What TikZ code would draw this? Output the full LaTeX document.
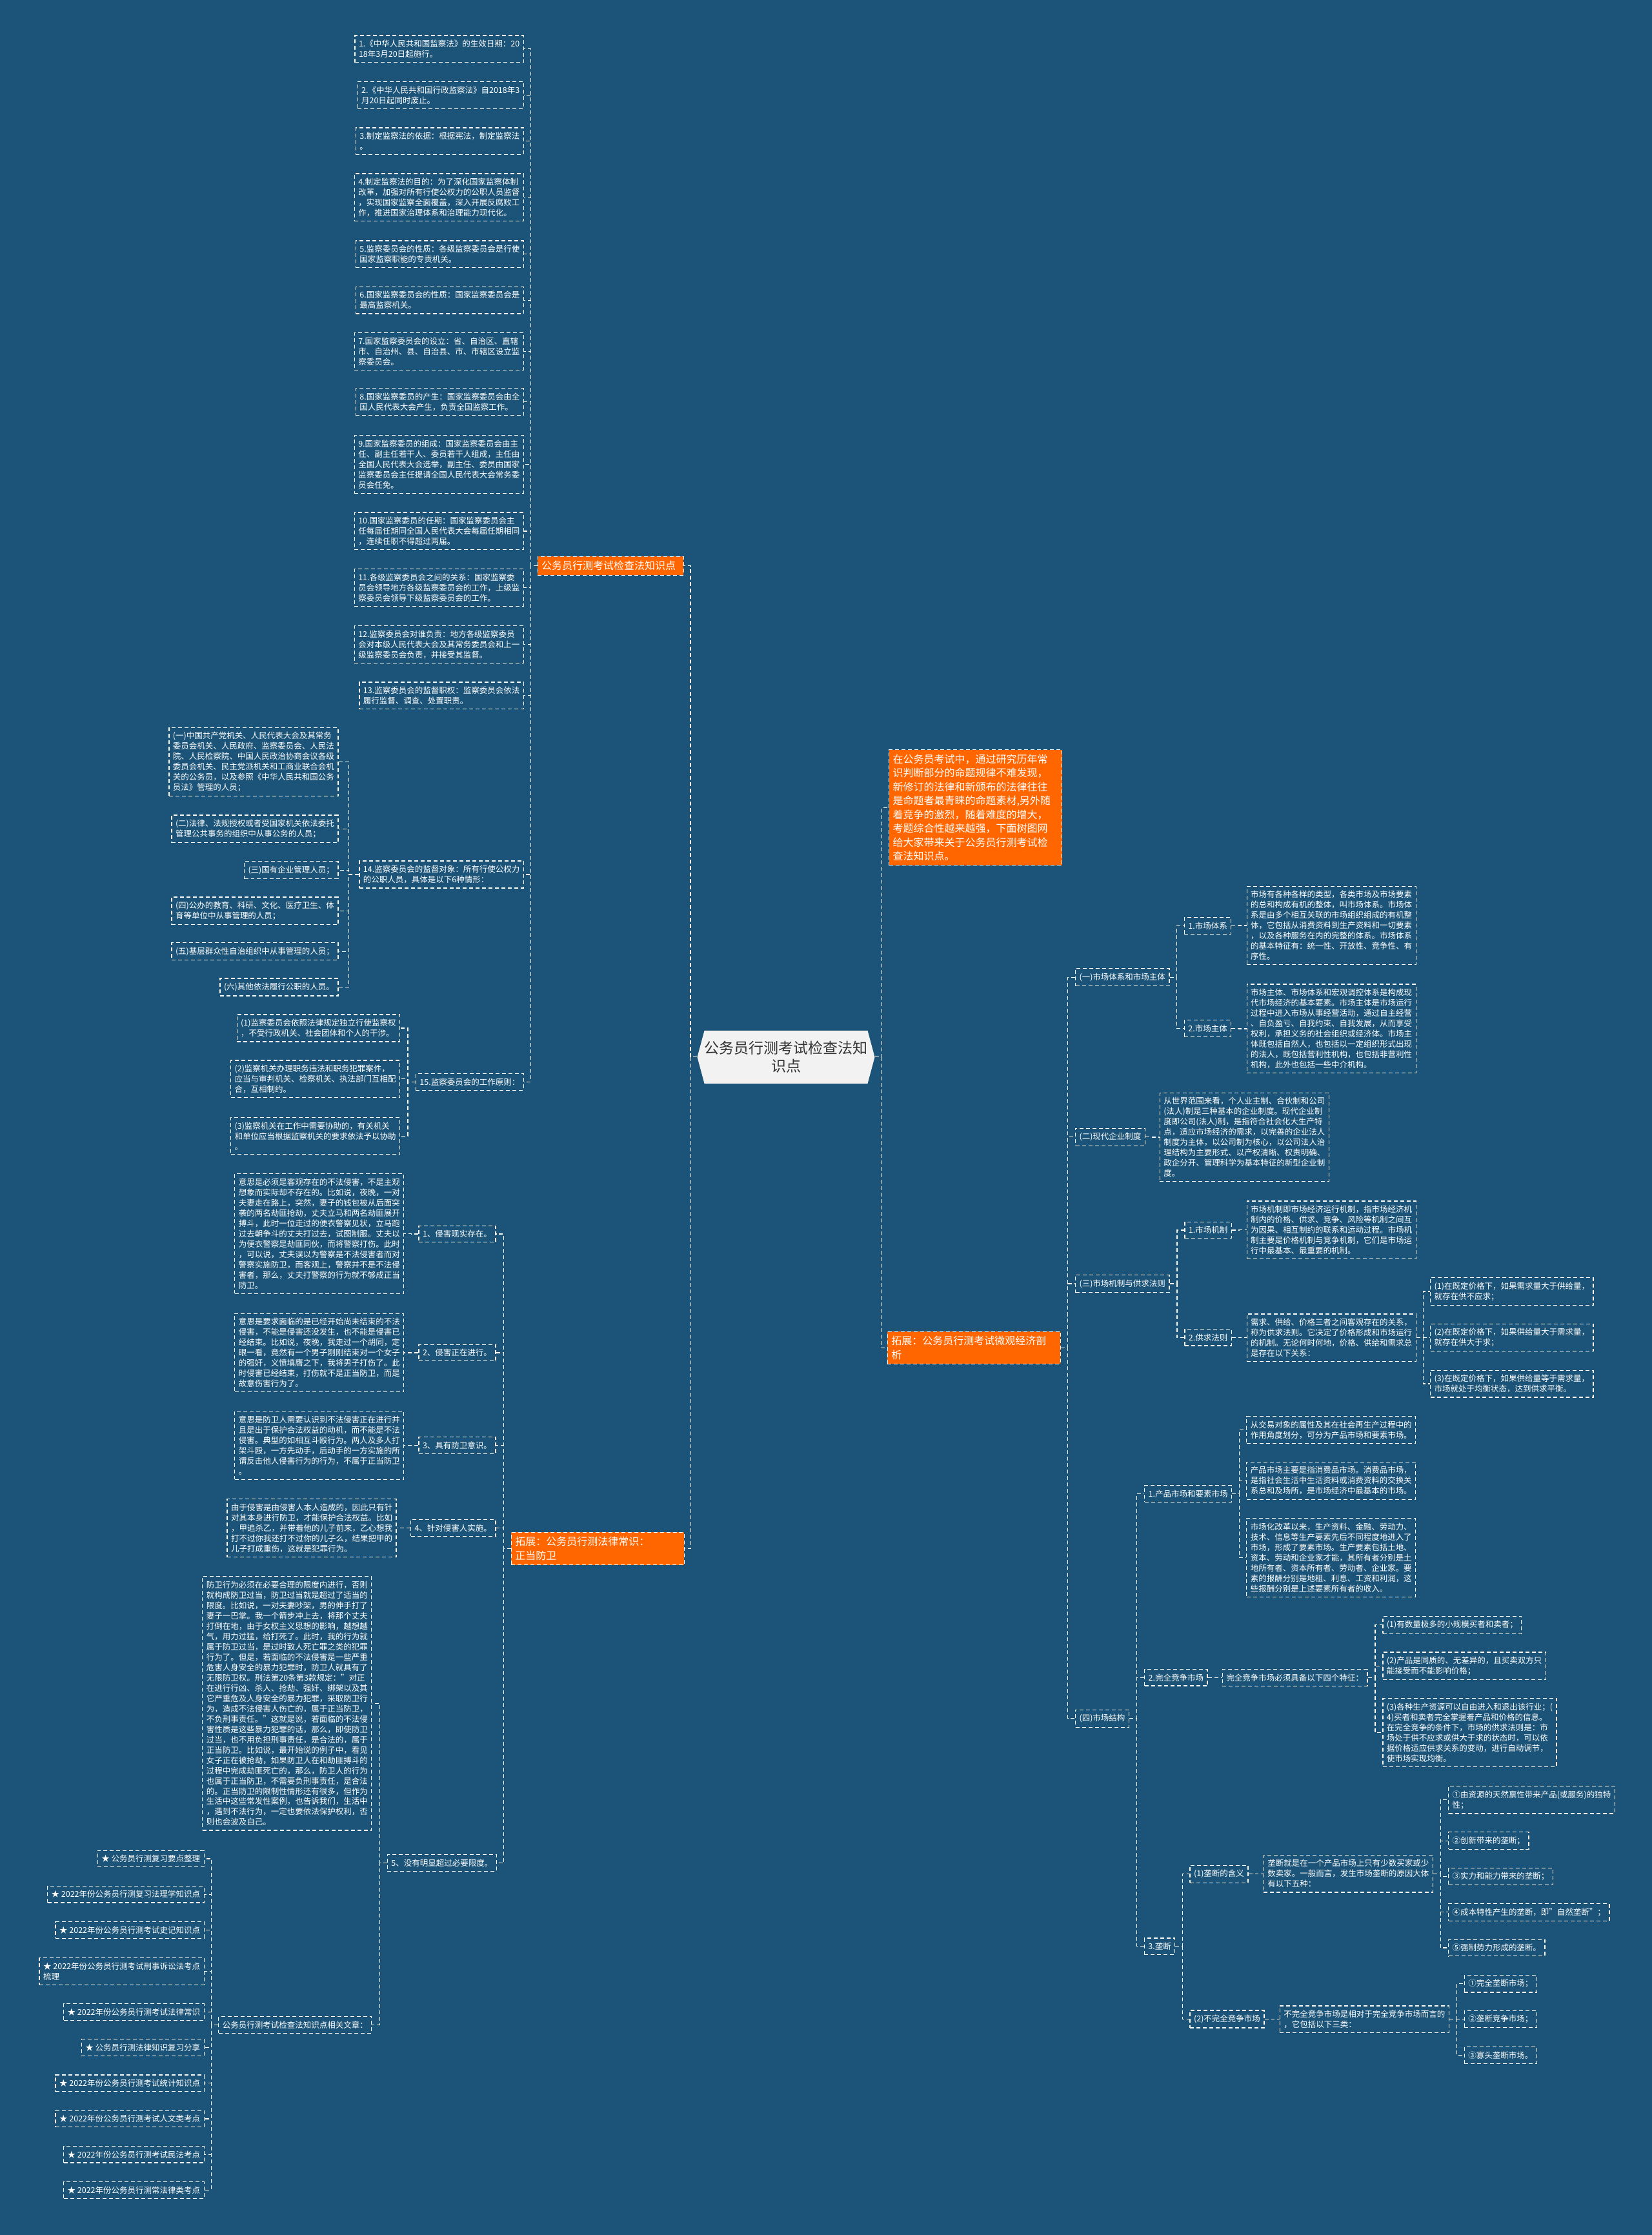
\documentclass[tikz,border=0pt]{standalone}
\usepackage{fontspec}
\setmainfont{Noto Sans CJK SC}
\usetikzlibrary{calc,shapes.symbols}
\definecolor{bgblue}{RGB}{27,84,120}
\definecolor{tuorange}{RGB}{255,102,0}
\definecolor{rootgray}{RGB}{242,242,242}
\begin{document}
\begin{tikzpicture}[x=2.2088pt,y=-2.2088pt,
    leaf/.style={draw=white,dash pattern=on 6pt off 4pt,line width=1.2pt,text=white,
      align=left,font=\fontsize{12.5}{16}\selectfont,inner xsep=6pt,inner ysep=7pt},
    hub/.style={leaf,fill=tuorange,font=\fontsize{16}{21.5}\selectfont,line width=1pt},
    root/.style={signal,signal to=west and east,signal pointer angle=150,fill=rootgray,
      text=black!80,align=center,font=\fontsize{23}{27.5}\selectfont,
      inner xsep=0pt,minimum height=82pt},
    link/.style={white,dash pattern=on 6pt off 4pt,line width=1.2pt}]
    \useasboundingbox (0,0) rectangle (1159,1568);
    \fill[bgblue] (0,0) rectangle (1159,1568);

    % centre
    \node[root] (root) at (551.5,741.6) {公务员行测考试检查法知\\识点};

    % left: 监察法
    \node[hub,anchor=west,text width=214pt] (jcf) at (377,397) {公务员行测考试检查法知识点};
    \node[leaf,anchor=east] (jcf1) at (367.6,34.3) {1.《中华人民共和国监察法》的生效日期：20\\18年3月20日起施行。};
    \node[leaf,anchor=east] (jcf2) at (367.6,66.7) {2.《中华人民共和国行政监察法》自2018年3\\月20日起同时废止。};
    \node[leaf,anchor=east] (jcf3) at (367.6,99) {3.制定监察法的依据：根据宪法，制定监察法\\。};
    \node[leaf,anchor=east] (jcf4) at (367.6,138.5) {4.制定监察法的目的：为了深化国家监察体制\\改革，加强对所有行使公权力的公职人员监督\\，实现国家监察全面覆盖，深入开展反腐败工\\作，推进国家治理体系和治理能力现代化。};
    \node[leaf,anchor=east] (jcf5) at (367.6,178.3) {5.监察委员会的性质：各级监察委员会是行使\\国家监察职能的专责机关。};
    \node[leaf,anchor=east] (jcf6) at (367.6,210.6) {6.国家监察委员会的性质：国家监察委员会是\\最高监察机关。};
    \node[leaf,anchor=east] (jcf7) at (367.6,246.5) {7.国家监察委员会的设立：省、自治区、直辖\\市、自治州、县、自治县、市、市辖区设立监\\察委员会。};
    \node[leaf,anchor=east] (jcf8) at (367.6,282) {8.国家监察委员的产生：国家监察委员会由全\\国人民代表大会产生，负责全国监察工作。};
    \node[leaf,anchor=east] (jcf9) at (367.6,325.7) {9.国家监察委员的组成：国家监察委员会由主\\任、副主任若干人、委员若干人组成，主任由\\全国人民代表大会选举，副主任、委员由国家\\监察委员会主任提请全国人民代表大会常务委\\员会任免。};
    \node[leaf,anchor=east] (jcf10) at (367.6,372.6) {10.国家监察委员的任期：国家监察委员会主\\任每届任期同全国人民代表大会每届任期相同\\，连续任职不得超过两届。};
    \node[leaf,anchor=east] (jcf11) at (367.6,412.3) {11.各级监察委员会之间的关系：国家监察委\\员会领导地方各级监察委员会的工作，上级监\\察委员会领导下级监察委员会的工作。};
    \node[leaf,anchor=east] (jcf12) at (367.6,452.1) {12.监察委员会对谁负责：地方各级监察委员\\会对本级人民代表大会及其常务委员会和上一\\级监察委员会负责，并接受其监督。};
    \node[leaf,anchor=east] (jcf13) at (367.6,488) {13.监察委员会的监督职权：监察委员会依法\\履行监督、调查、处置职责。};
    \node[leaf,anchor=east] (jcf14) at (367.6,613.5) {14.监察委员会的监督对象：所有行使公权力\\的公职人员，具体是以下6种情形：};
    \node[leaf,anchor=east] (jcf15) at (367.6,759) {15.监察委员会的工作原则：};

    \node[leaf,anchor=east] (dx1) at (237.5,534.5) {(一)中国共产党机关、人民代表大会及其常务\\委员会机关、人民政府、监察委员会、人民法\\院、人民检察院、中国人民政治协商会议各级\\委员会机关、民主党派机关和工商业联合会机\\关的公务员，以及参照《中华人民共和国公务\\员法》管理的人员；};
    \node[leaf,anchor=east] (dx2) at (237.5,581.5) {(二)法律、法规授权或者受国家机关依法委托\\管理公共事务的组织中从事公务的人员；};
    \node[leaf,anchor=east] (dx3) at (237.5,610.5) {(三)国有企业管理人员；};
    \node[leaf,anchor=east] (dx4) at (237.5,639) {(四)公办的教育、科研、文化、医疗卫生、体\\育等单位中从事管理的人员；};
    \node[leaf,anchor=east] (dx5) at (237.5,667.5) {(五)基层群众性自治组织中从事管理的人员；};
    \node[leaf,anchor=east] (dx6) at (237.5,692.5) {(六)其他依法履行公职的人员。};

    \node[leaf,anchor=east] (yz1) at (280.8,721.3) {(1)监察委员会依照法律规定独立行使监察权\\，不受行政机关、社会团体和个人的干涉。};
    \node[leaf,anchor=east] (yz2) at (280.8,757) {(2)监察机关办理职务违法和职务犯罪案件，\\应当与审判机关、检察机关、执法部门互相配\\合，互相制约。};
    \node[leaf,anchor=east] (yz3) at (280.8,797) {(3)监察机关在工作中需要协助的，有关机关\\和单位应当根据监察机关的要求依法予以协助\\。};

    % left: 正当防卫
    \node[hub,anchor=west,text width=256pt] (zdfw) at (358.5,1086.5) {拓展：公务员行测法律常识：\\正当防卫};
    \node[leaf,anchor=east] (fw1) at (348,865.7) {1、侵害现实存在。};
    \node[leaf,anchor=east] (fw2) at (348,949) {2、侵害正在进行。};
    \node[leaf,anchor=east] (fw3) at (348,1014) {3、具有防卫意识。};
    \node[leaf,anchor=east] (fw4) at (348,1072) {4、针对侵害人实施。};
    \node[leaf,anchor=east] (fw5) at (348.6,1307) {5、没有明显超过必要限度。};

    \node[leaf,anchor=east] (fwd1) at (283.6,865.5) {意思是必须是客观存在的不法侵害，不是主观\\想象而实际却不存在的。比如说，夜晚，一对\\夫妻走在路上，突然，妻子的钱包被从后面突\\袭的两名劫匪抢劫，丈夫立马和两名劫匪展开\\搏斗，此时一位走过的便衣警察见状，立马跑\\过去朝争斗的丈夫打过去，试图制服。丈夫以\\为便衣警察是劫匪同伙，而将警察打伤。此时\\，可以说，丈夫误以为警察是不法侵害者而对\\警察实施防卫，而客观上，警察并不是不法侵\\害者，那么，丈夫打警察的行为就不够成正当\\防卫。};
    \node[leaf,anchor=east] (fwd2) at (283.6,949) {意思是要求面临的是已经开始尚未结束的不法\\侵害，不能是侵害还没发生，也不能是侵害已\\经结束。比如说，夜晚，我走过一个胡同，定\\眼一看，竟然有一个男子刚刚结束对一个女子\\的强奸，义愤填膺之下，我将男子打伤了。此\\时侵害已经结束，打伤就不是正当防卫，而是\\故意伤害行为了。};
    \node[leaf,anchor=east] (fwd3) at (283.6,1014) {意思是防卫人需要认识到不法侵害正在进行并\\且是出于保护合法权益的动机，而不能是不法\\侵害。典型的如相互斗殴行为。两人及多人打\\架斗殴，一方先动手，后动手的一方实施的所\\谓反击他人侵害行为的行为，不属于正当防卫\\。};
    \node[leaf,anchor=east] (fwd4) at (278.3,1072) {由于侵害是由侵害人本人造成的，因此只有针\\对其本身进行防卫，才能保护合法权益。比如\\，甲追杀乙，并带着他的儿子前来，乙心想我\\打不过你我还打不过你的儿子么，结果把甲的\\儿子打成重伤，这就是犯罪行为。};
    \node[leaf,anchor=east] (fwd5) at (261,1195) {防卫行为必须在必要合理的限度内进行，否则\\就构成防卫过当，防卫过当就是超过了适当的\\限度。比如说，一对夫妻吵架，男的伸手打了\\妻子一巴掌。我一个箭步冲上去，将那个丈夫\\打倒在地，由于女权主义思想的影响，越想越\\气，用力过猛，给打死了。此时，我的行为就\\属于防卫过当，是过时致人死亡罪之类的犯罪\\行为了。但是，若面临的不法侵害是一些严重\\危害人身安全的暴力犯罪时，防卫人就具有了\\无限防卫权。刑法第20条第3款规定："对正\\在进行行凶、杀人、抢劫、强奸、绑架以及其\\它严重危及人身安全的暴力犯罪，采取防卫行\\为，造成不法侵害人伤亡的，属于正当防卫，\\不负刑事责任。"这就是说，若面临的不法侵\\害性质是这些暴力犯罪的话，那么，即使防卫\\过当，也不用负担刑事责任，是合法的，属于\\正当防卫。比如说，最开始说的例子中，看见\\女子正在被抢劫，如果防卫人在和劫匪搏斗的\\过程中完成劫匪死亡的，那么，防卫人的行为\\也属于正当防卫，不需要负刑事责任，是合法\\的。正当防卫的限制性情形还有很多，但作为\\生活中这些常发性案例，也告诉我们，生活中\\，遇到不法行为，一定也要依法保护权利，否\\则也会波及自己。};
    \node[leaf,anchor=east] (wz) at (261,1420.5) {公务员行测考试检查法知识点相关文章：};

    \node[leaf,anchor=east] (wz1) at (143.4,1304) {★ 公务员行测复习要点整理};
    \node[leaf,anchor=east] (wz2) at (143.4,1329) {★ 2022年份公务员行测复习法理学知识点};
    \node[leaf,anchor=east] (wz3) at (143.4,1354) {★ 2022年份公务员行测考试史记知识点};
    \node[leaf,anchor=east] (wz4) at (143.4,1383) {★ 2022年份公务员行测考试刑事诉讼法考点\\梳理};
    \node[leaf,anchor=east] (wz5) at (143.4,1411.5) {★ 2022年份公务员行测考试法律常识};
    \node[leaf,anchor=east] (wz6) at (143.4,1436.5) {★ 公务员行测法律知识复习分享};
    \node[leaf,anchor=east] (wz7) at (143.4,1461.5) {★ 2022年份公务员行测考试统计知识点};
    \node[leaf,anchor=east] (wz8) at (143.4,1486.5) {★ 2022年份公务员行测考试人文类考点};
    \node[leaf,anchor=east] (wz9) at (143.4,1511.5) {★ 2022年份公务员行测考试民法考点};
    \node[leaf,anchor=east] (wz10) at (143.4,1536.5) {★ 2022年份公务员行测常法律类考点};

    % right
    \node[hub,anchor=west,text width=256pt] (intro) at (623.5,566.5) {在公务员考试中，通过研究历年常\\识判断部分的命题规律不难发现，\\新修订的法律和新颁布的法律往往\\是命题者最青睐的命题素材,另外随\\着竞争的激烈，随着难度的增大，\\考题综合性越来越强，下面树图网\\给大家带来关于公务员行测考试检\\查法知识点。};
    \node[hub,anchor=west,text width=256pt] (jj) at (622.5,945.5) {拓展：公务员行测考试微观经济剖\\析};

    \node[leaf,anchor=west] (sc1) at (754.3,685.6) {(一)市场体系和市场主体};
    \node[leaf,anchor=west] (sc2) at (754.3,797.7) {(二)现代企业制度};
    \node[leaf,anchor=west] (sc3) at (754.3,900.6) {(三)市场机制与供求法则};
    \node[leaf,anchor=west] (sc4) at (754.3,1205.6) {(四)市场结构};

    \node[leaf,anchor=west] (tx1) at (830.8,649.5) {1.市场体系};
    \node[leaf,anchor=west] (tx2) at (830.8,721.5) {2.市场主体};
    \node[leaf,anchor=west] (txd1) at (874.6,649.3) {市场有各种各样的类型，各类市场及市场要素\\的总和构成有机的整体，叫市场体系。市场体\\系是由多个相互关联的市场组织组成的有机整\\体，它包括从消费资料到生产资料和一切要素\\，以及各种服务在内的完整的体系。市场体系\\的基本特征有：统一性、开放性、竞争性、有\\序性。};
    \node[leaf,anchor=west] (txd2) at (874.6,721.7) {市场主体、市场体系和宏观调控体系是构成现\\代市场经济的基本要素。市场主体是市场运行\\过程中进入市场从事经营活动，通过自主经营\\、自负盈亏、自我约束、自我发展，从而享受\\权利，承担义务的社会组织或经济体。市场主\\体既包括自然人，也包括以一定组织形式出现\\的法人，既包括营利性机构，也包括非营利性\\机构，此外也包括一些中介机构。};

    \node[leaf,anchor=west] (qy) at (813.6,797.8) {从世界范围来看，个人业主制、合伙制和公司\\(法人)制是三种基本的企业制度。现代企业制\\度即公司(法人)制，是指符合社会化大生产特\\点，适应市场经济的需求，以完善的企业法人\\制度为主体，以公司制为核心，以公司法人治\\理结构为主要形式、以产权清晰、权责明确、\\政企分开、管理科学为基本特征的新型企业制\\度。};

    \node[leaf,anchor=west] (jz1) at (831,863) {1.市场机制};
    \node[leaf,anchor=west] (jz2) at (831,938.3) {2.供求法则};
    \node[leaf,anchor=west] (jzd1) at (874.6,862.9) {市场机制即市场经济运行机制，指市场经济机\\制内的价格、供求、竞争、风险等机制之间互\\为因果、相互制约的联系和运动过程。市场机\\制主要是价格机制与竞争机制，它们是市场运\\行中最基本、最重要的机制。};
    \node[leaf,anchor=west] (jzd2) at (874.6,938.5) {需求、供给、价格三者之间客观存在的关系，\\称为供求法则。它决定了价格形成和市场运行\\的机制。无论何时何地，价格、供给和需求总\\是存在以下关系：};
    \node[leaf,anchor=west] (gq1) at (1003.4,906) {(1)在既定价格下，如果需求量大于供给量，\\就存在供不应求；};
    \node[leaf,anchor=west] (gq2) at (1003.4,938.4) {(2)在既定价格下，如果供给量大于需求量，\\就存在供大于求；};
    \node[leaf,anchor=west] (gq3) at (1003.4,970.8) {(3)在既定价格下，如果供给量等于需求量，\\市场就处于均衡状态，达到供求平衡。};

    \node[leaf,anchor=west] (jg1) at (802.8,1047.9) {1.产品市场和要素市场};
    \node[leaf,anchor=west] (jg2) at (802.8,1176.9) {2.完全竞争市场};
    \node[leaf,anchor=west] (jg3) at (802.7,1365.5) {3.垄断};
    \node[leaf,anchor=west] (jgx1) at (874.4,1003.3) {从交易对象的属性及其在社会再生产过程中的\\作用角度划分，可分为产品市场和要素市场。};
    \node[leaf,anchor=west] (jgx2) at (874.4,1038.8) {产品市场主要是指消费品市场。消费品市场，\\是指社会生活中生活资料或消费资料的交换关\\系总和及场所，是市场经济中最基本的市场。};
    \node[leaf,anchor=west] (jgx3) at (874.4,1092.7) {市场化改革以来，生产资料、金融、劳动力、\\技术、信息等生产要素先后不同程度地进入了\\市场，形成了要素市场。生产要素包括土地、\\资本、劳动和企业家才能，其所有者分别是土\\地所有者、资本所有者、劳动者、企业家。要\\素的报酬分别是地租、利息、工资和利润，这\\些报酬分别是上述要素所有者的收入。};
    \node[leaf,anchor=west] (jgd) at (857.5,1176.9) {完全竞争市场必须具备以下四个特征：};
    \node[leaf,anchor=west] (tz1) at (970,1140) {(1)有数量极多的小规模买者和卖者；};
    \node[leaf,anchor=west] (tz2) at (970,1168.8) {(2)产品是同质的、无差异的，且买卖双方只\\能接受而不能影响价格；};
    \node[leaf,anchor=west] (tz3) at (970,1215.5) {(3)各种生产资源可以自由进入和退出该行业；(\\4)买者和卖者完全掌握着产品和价格的信息。\\在完全竞争的条件下，市场的供求法则是：市\\场处于供不应求或供大于求的状态时，可以依\\据价格适应供求关系的变动，进行自动调节，\\使市场实现均衡。};

    \node[leaf,anchor=west] (ld1) at (834.7,1314.7) {(1)垄断的含义};
    \node[leaf,anchor=west] (ld2) at (834.7,1416.5) {(2)不完全竞争市场};
    \node[leaf,anchor=west] (ldd1) at (886.4,1314.5) {垄断就是在一个产品市场上只有少数买家或少\\数卖家。一般而言，发生市场垄断的原因大体\\有以下五种：};
    \node[leaf,anchor=west] (ldd2) at (897.8,1416.7) {不完全竞争市场是相对于完全竞争市场而言的\\，它包括以下三类：};
    \node[leaf,anchor=west] (yy1) at (1016,1262.7) {①由资源的天然禀性带来产品(或服务)的独特\\性；};
    \node[leaf,anchor=west] (yy2) at (1016,1291.4) {②创新带来的垄断；};
    \node[leaf,anchor=west] (yy3) at (1016,1316.5) {③实力和能力带来的垄断；};
    \node[leaf,anchor=west] (yy4) at (1016,1341.5) {④成本特性产生的垄断，即"自然垄断"；};
    \node[leaf,anchor=west] (yy5) at (1016,1366.5) {⑤强制势力形成的垄断。};
    \node[leaf,anchor=west] (bw1) at (1027.3,1391.7) {①完全垄断市场；};
    \node[leaf,anchor=west] (bw2) at (1027.3,1416.5) {②垄断竞争市场；};
    \node[leaf,anchor=west] (bw3) at (1027.3,1441.9) {③寡头垄断市场。};

    % connectors, left side
    \foreach \c in {jcf,zdfw}
        \draw[link] (root.west) -| ($(root.west)!.5!(\c.east)$) |- (\c.east);
    \foreach \i in {1,...,15}
        \draw[link] (jcf.west) -| ($(jcf.west)!.5!(jcf\i.east)$) |- (jcf\i.east);
    \foreach \i in {1,...,6}
        \draw[link] (jcf14.west) -| ($(jcf14.west)!.5!(dx\i.east)$) |- (dx\i.east);
    \foreach \i in {1,2,3}
        \draw[link] (jcf15.west) -| ($(jcf15.west)!.5!(yz\i.east)$) |- (yz\i.east);
    \foreach \i in {1,...,5} {
        \draw[link] (zdfw.west) -| ($(zdfw.west)!.5!(fw\i.east)$) |- (fw\i.east);
        \draw[link] (fw\i.west) -| ($(fw\i.west)!.5!(fwd\i.east)$) |- (fwd\i.east);
    }
    \draw[link] (fw5.west) -| ($(fw5.west)!.5!(wz.east)$) |- (wz.east);
    \foreach \i in {1,...,10}
        \draw[link] (wz.west) -| ($(wz.west)!.5!(wz\i.east)$) |- (wz\i.east);

    % connectors, right side
    \foreach \c in {intro,jj}
        \draw[link] (root.east) -| ($(root.east)!.5!(\c.west)$) |- (\c.west);
    \foreach \i in {1,...,4}
        \draw[link] (jj.east) -| ($(jj.east)!.5!(sc\i.west)$) |- (sc\i.west);
    \foreach \i in {1,2} {
        \draw[link] (sc1.east) -| ($(sc1.east)!.5!(tx\i.west)$) |- (tx\i.west);
        \draw[link] (tx\i.east) -| ($(tx\i.east)!.5!(txd\i.west)$) |- (txd\i.west);
        \draw[link] (sc3.east) -| ($(sc3.east)!.5!(jz\i.west)$) |- (jz\i.west);
        \draw[link] (jz\i.east) -| ($(jz\i.east)!.5!(jzd\i.west)$) |- (jzd\i.west);
        \draw[link] (jg3.east) -| ($(jg3.east)!.5!(ld\i.west)$) |- (ld\i.west);
        \draw[link] (ld\i.east) -| ($(ld\i.east)!.5!(ldd\i.west)$) |- (ldd\i.west);
    }
    \draw[link] (sc2.east) -| ($(sc2.east)!.5!(qy.west)$) |- (qy.west);
    \foreach \i in {1,2,3} {
        \draw[link] (jzd2.east) -| ($(jzd2.east)!.5!(gq\i.west)$) |- (gq\i.west);
        \draw[link] (sc4.east) -| ($(sc4.east)!.5!(jg\i.west)$) |- (jg\i.west);
        \draw[link] (jg1.east) -| ($(jg1.east)!.5!(jgx\i.west)$) |- (jgx\i.west);
        \draw[link] (jgd.east) -| ($(jgd.east)!.5!(tz\i.west)$) |- (tz\i.west);
        \draw[link] (ldd2.east) -| ($(ldd2.east)!.5!(bw\i.west)$) |- (bw\i.west);
    }
    \draw[link] (jg2.east) -| ($(jg2.east)!.5!(jgd.west)$) |- (jgd.west);
    \foreach \i in {1,...,5}
        \draw[link] (ldd1.east) -| ($(ldd1.east)!.5!(yy\i.west)$) |- (yy\i.west);
\end{tikzpicture}
\end{document}
